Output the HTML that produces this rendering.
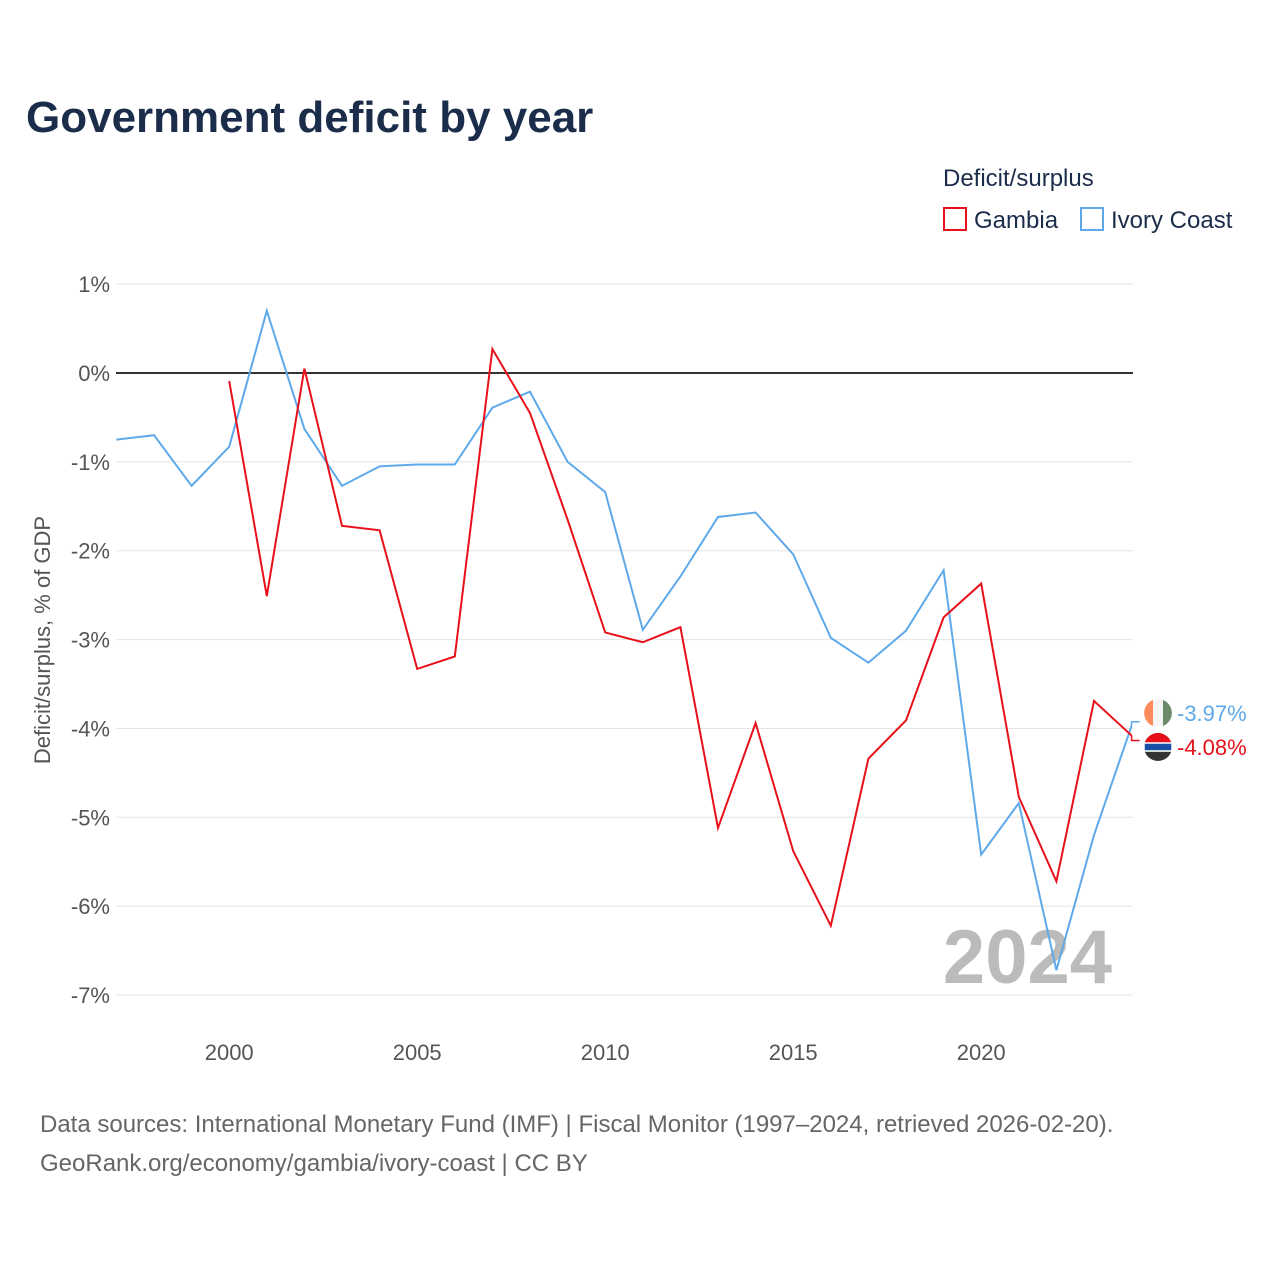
<!DOCTYPE html>
<html><head><meta charset="utf-8"><style>
body{margin:0;background:#fff;font-family:"Liberation Sans",sans-serif;}
svg text{font-family:"Liberation Sans",sans-serif;}
</style></head><body>
<svg id="c" width="1280" height="1280" viewBox="0 0 1280 1280">
<text x="26" y="132" font-size="44" font-weight="bold" fill="#1b2d4a">Government deficit by year</text>
<text x="943" y="186" font-size="24" fill="#1b2d4a">Deficit/surplus</text>
<g><rect x="944" y="208" width="22" height="22" fill="none" stroke="#e8101a" stroke-width="2"/><text x="974" y="228" font-size="24" fill="#1b2d4a">Gambia</text></g>
<g><rect x="1081" y="208" width="22" height="22" fill="none" stroke="#5ea9ea" stroke-width="2"/><text x="1111" y="228" font-size="24" fill="#1b2d4a">Ivory Coast</text></g>
<text transform="translate(50,640) rotate(-90)" text-anchor="middle" font-size="22" fill="#555">Deficit/surplus, % of GDP</text>
<g id="grid"></g>
<text x="1112" y="983" text-anchor="end" font-size="76" font-weight="bold" fill="#bbb">2024</text>
<g id="series"></g>
<text x="40" y="1132" font-size="24" fill="#666">Data sources: International Monetary Fund (IMF) | Fiscal Monitor (1997–2024, retrieved 2026-02-20).</text>
<text x="40" y="1171" font-size="24" fill="#666">GeoRank.org/economy/gambia/ivory-coast | CC BY</text>
</svg>
<script>
const yTicks=[1,0,-1,-2,-3,-4,-5,-6,-7];
const xTicks=[2000,2005,2010,2015,2020];
const ivoryYears=[1997,1998,1999,2000,2001,2002,2003,2004,2005,2006,2007,2008,2009,2010,2011,2012,2013,2014,2015,2016,2017,2018,2019,2020,2021,2022,2023,2024];
const ivoryValues=[-0.75,-0.70,-1.27,-0.83,0.70,-0.63,-1.27,-1.05,-1.03,-1.03,-0.39,-0.21,-1.00,-1.34,-2.89,-2.29,-1.62,-1.57,-2.04,-2.98,-3.26,-2.90,-2.22,-5.42,-4.84,-6.72,-5.20,-3.97];
const gambiaYears=[2000,2001,2002,2003,2004,2005,2006,2007,2008,2009,2010,2011,2012,2013,2014,2015,2016,2017,2018,2019,2020,2021,2022,2023,2024];
const gambiaValues=[-0.09,-2.51,0.05,-1.72,-1.77,-3.33,-3.19,0.27,-0.45,-1.65,-2.92,-3.03,-2.86,-5.12,-3.94,-5.38,-6.22,-4.34,-3.91,-2.75,-2.37,-4.77,-5.72,-3.69,-4.08];
const NS="http://www.w3.org/2000/svg";
const X=y=>116.4+(y-1997)*37.6, Y=v=>373-v*88.86;
const L=116,R=1133;
function mk(t,a,p){const e=document.createElementNS(NS,t);for(const k in a)e.setAttribute(k,a[k]);p.appendChild(e);return e;}
const g=document.getElementById('grid');
yTicks.forEach(v=>{
 const l=mk('line',{x1:L,x2:R,y1:Y(v),y2:Y(v),stroke:v===0?'#333':'#e4e4e4','stroke-width':v===0?2:1},g);
 
 
 const t=mk('text',{x:110,y:Y(v)+8,'text-anchor':'end','font-size':22,fill:'#555'},g);
 
 
 t.textContent=v+'%';
});
xTicks.forEach(y=>{
 const t=mk('text',{x:X(y),y:1060,'text-anchor':'middle','font-size':22,fill:'#555'},g);
 
 
 t.textContent=y;
});
const s=document.getElementById('series');
function line(ys,vs,col,name){
 const p=mk('polyline',{points:ys.map((y,i)=>X(y)+','+Y(vs[i])).join(' '),fill:'none',stroke:col,'stroke-width':2},s);
 
 
}
line(ivoryYears,ivoryValues,'#5ea9ea','ivory-coast-line');
line(gambiaYears,gambiaValues,'#e8101a','gambia-line');
const iv=ivoryValues[ivoryValues.length-1], gv=gambiaValues[gambiaValues.length-1];
const ix=X(2024);
// labels
const iy=Y(iv)-2, gy=Y(gv)+3;
mk('polyline',{points:`${ix},${Y(iv)} ${ix},${iy-2} ${ix+8},${iy-2}`,fill:'none',stroke:'#5ea9ea','stroke-width':1.5},s);
mk('polyline',{points:`${ix},${Y(gv)} ${ix},${gy+2} ${ix+8},${gy+2}`,fill:'none',stroke:'#e8101a','stroke-width':1.5},s);
const f1=mk('g',{},s);
mk('circle',{cx:1158,cy:713,r:14,fill:'#f5f5f5'},f1);
mk('path',{d:'M1153,700 A14,14 0 0 0 1153,726 Z',fill:'#ff8a5c'},f1);
mk('path',{d:'M1163,700 A14,14 0 0 1 1163,726 Z',fill:'#6a8a6a'},f1);
const f2=mk('g',{},s);
mk('circle',{cx:1158,cy:747,r:14,fill:'#3a7a3a'},f2);
mk('path',{d:'M1144,747 A14,14 0 0 1 1172,747 Z',fill:'#e8101a'},f2);
mk('rect',{x:1144,y:743,width:28,height:8,fill:'#1a4fa8',stroke:'#fff','stroke-width':1.5},f2);
mk('path',{d:'M1145,752 A14,14 0 0 0 1171,752 Z',fill:'#333'},f2);
const t1=mk('text',{x:1177,y:721,'font-size':22,fill:'#5ea9ea'},s);


t1.textContent=iv.toFixed(2)+'%';
const t2=mk('text',{x:1177,y:755,'font-size':22,fill:'#e8101a'},s);


t2.textContent=gv.toFixed(2)+'%';
</script>
</body></html>
